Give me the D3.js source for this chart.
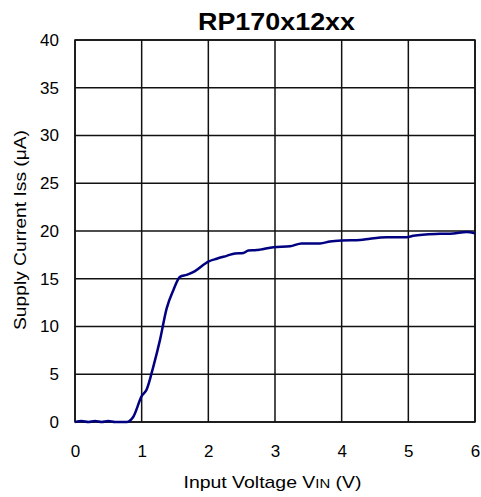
<!DOCTYPE html>
<html><head><meta charset="utf-8">
<script src="https://cdn.jsdelivr.net/npm/d3@7"></script>
<style>body{margin:0;background:#fff}text{font-family:"Liberation Sans",Arial,sans-serif}</style>
</head><body><svg id="c" width="481" height="497"></svg>
<script>
const title = "RP170x12xx";
const xTicks = [0,1,2,3,4,5,6];
const yTicks = [0,5,10,15,20,25,30,35,40];
const vin = [0,0.1,0.2,0.3,0.4,0.5,0.6,0.7,0.775,0.875,1.0,1.075,1.175,1.275,1.375,1.475,1.575,1.675,1.8,2.0,2.125,2.275,2.4,2.525,2.6,2.725,2.775,2.975,3.225,3.4,3.675,3.825,4.0,4.275,4.425,4.675,4.975,5.075,5.475,5.675,5.875,6.0];
const iss = [0,0.1,0,0.1,0,0.1,0,0,0,0.55,2.7,3.4,5.8,8.6,11.9,13.8,15.2,15.4,15.8,16.8,17.1,17.4,17.65,17.7,17.95,18.0,18.05,18.3,18.4,18.7,18.7,18.9,19.0,19.05,19.2,19.35,19.35,19.5,19.7,19.75,19.9,19.75];

const svg = d3.select("#c");
const L=75,R=475,T=40,B=422;
const x = d3.scaleLinear().domain([0,6]).range([L,R]);
const y = d3.scaleLinear().domain([0,40]).range([B,T]);

const g = svg.append("g");
g.selectAll(".vx").data(xTicks).enter().append("line")
 .attr("x1",d=>x(d)).attr("x2",d=>x(d)).attr("y1",T).attr("y2",B)
 .attr("stroke","#111").attr("stroke-width",1.5);
g.selectAll(".hy").data(yTicks).enter().append("line")
 .attr("y1",d=>y(d)).attr("y2",d=>y(d)).attr("x1",L).attr("x2",R)
 .attr("stroke","#111").attr("stroke-width",1.5);
g.append("rect").attr("x",L).attr("y",T).attr("width",R-L).attr("height",B-T)
 .attr("fill","none").attr("stroke","#111").attr("stroke-width",1.5);

const xa = svg.append("g").attr("transform",`translate(0,${B})`)
 .call(d3.axisBottom(x).tickValues(xTicks).tickSize(0).tickPadding(23).tickFormat(d3.format("d")));
xa.select(".domain").remove();
xa.selectAll("text").attr("font-size",17).attr("fill","#000").style("font-family","Liberation Sans, Arial");
const ya = svg.append("g").attr("transform",`translate(${L},0)`)
 .call(d3.axisLeft(y).tickValues(yTicks).tickSize(0).tickPadding(16).tickFormat(d3.format("d")));
ya.select(".domain").remove();
ya.selectAll("text").attr("font-size",17).attr("fill","#000").style("font-family","Liberation Sans, Arial");

svg.append("path").datum(vin.map((v,i)=>[v,iss[i]]))
 .attr("d",d3.line().x(d=>x(d[0])).y(d=>y(d[1])).curve(d3.curveMonotoneX))
 .attr("fill","none").attr("stroke","#000080").attr("stroke-width",2.5);

svg.append("text").attr("x",276.5).attr("y",30).attr("text-anchor","middle")
 .attr("font-size",24).attr("font-weight","bold")
 .attr("textLength",157).attr("lengthAdjust","spacingAndGlyphs").text(title);

const xl = svg.append("text").attr("x",272.5).attr("y",488).attr("text-anchor","middle").attr("font-size",17)
 .attr("textLength",178).attr("lengthAdjust","spacingAndGlyphs");
xl.append("tspan").text("Input Voltage V");
xl.append("tspan").attr("font-size",13).text("IN");
xl.append("tspan").text(" (V)");

svg.append("text").attr("transform",`translate(26,230) rotate(-90)`).attr("text-anchor","middle")
 .attr("font-size",17).attr("textLength",200).attr("lengthAdjust","spacingAndGlyphs")
 .text("Supply Current Iss (μA)");
</script></body></html>
